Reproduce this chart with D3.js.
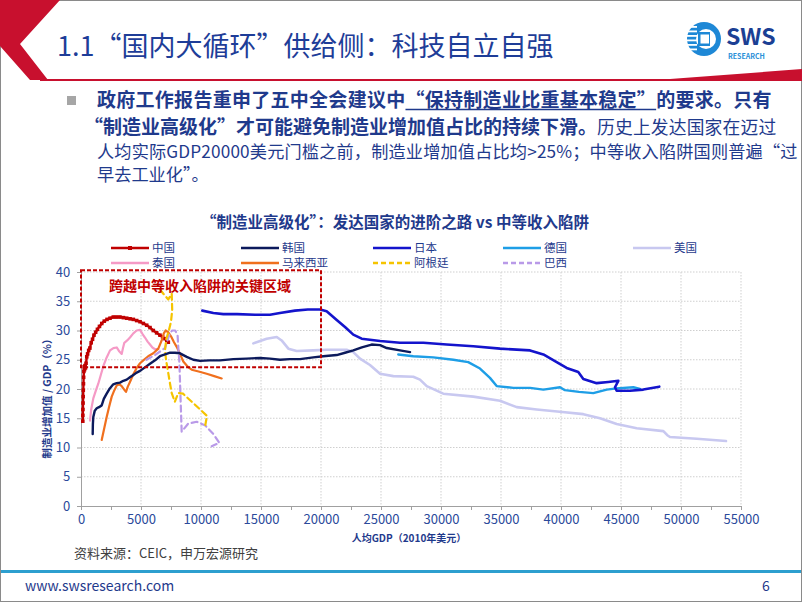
<!DOCTYPE html>
<html><head><meta charset="utf-8">
<script src="https://cdn.jsdelivr.net/npm/d3@7"></script>
<style>
body{margin:0;background:#fff;}
svg{display:block;}
text{font-family:"Noto Sans CJK SC","Noto Sans",sans-serif;}
</style></head><body>
<svg id="c" width="802" height="602"></svg>
<script>
// ---------- DATA ----------
const xTicks=[0,5000,10000,15000,20000,25000,30000,35000,40000,45000,50000,55000];
const yTicks=[0,5,10,15,20,25,30,35,40];
const seriesNames=["中国","韩国","日本","德国","美国","泰国","马来西亚","阿根廷","巴西"];
const china=[[150,14.5],[155,15.5],[160,16.5],[170,17.6],[180,18.7],[190,19.8],[205,20.9],[220,22.0],[240,23.0],[265,23.8],[295,23.3],[330,24.0],[370,23.6],[420,24.4],[480,25.5],[550,26.0],[640,26.6],[740,27.0],[850,27.9],[960,28.5],[1080,29.2],[1220,29.7],[1370,30.2],[1540,30.7],[1730,31.2],[1940,31.6],[2170,31.9],[2420,32.1],[2690,32.3],[2970,32.3],[3250,32.3],[3530,32.2],[3810,32.1],[4090,32.0],[4360,31.9],[4640,31.7],[4920,31.5],[5200,31.2],[5475,30.9],[5750,30.5],[6025,30.0],[6300,29.6],[6580,29.2],[6800,28.9],[7000,28.6],[7150,28.3],[7275,28.0]];
const korea=[[975,12.3],[990,14.0],[1025,15.2],[1150,16.3],[1310,16.7],[1500,16.9],[1725,17.2],[1900,18.3],[2140,19.2],[2400,20.1],[2690,20.8],[2970,21.0],[3250,21.1],[3530,21.4],[3810,21.6],[4080,22.0],[4360,22.4],[4640,22.8],[4920,23.1],[5330,23.7],[5750,24.3],[6170,24.9],[6580,25.6],[7000,25.9],[7420,26.2],[7830,26.2],[8250,26.1],[8810,25.5],[9360,25.0],[9920,24.8],[10700,24.9],[11580,24.9],[12700,25.1],[13810,25.2],[14920,25.3],[15750,25.2],[16580,25.0],[17400,25.1],[18250,25.1],[19360,25.4],[20190,25.6],[21310,25.8],[22000,26.2],[22690,26.6],[23400,27.1],[24220,27.6],[24920,27.5],[25480,27.0],[26580,26.6],[27420,26.3]];
const japan=[[10110,33.4],[11030,33.0],[11860,32.8],[13000,32.8],[14500,32.7],[15750,32.7],[16580,33.0],[17830,33.4],[18900,33.6],[19920,33.6],[20470,33.3],[21310,31.8],[22000,30.6],[22690,29.3],[23390,28.6],[24920,28.2],[26580,27.9],[28530,27.9],[30470,27.6],[32690,27.3],[34920,26.9],[37420,26.6],[38530,25.9],[39640,24.6],[40470,23.6],[41440,22.9],[41860,21.7],[42970,21.0],[43940,21.2],[44780,21.4],[44500,20.3],[44640,19.7],[45750,19.7],[46860,19.9],[48190,20.4]];
const germany=[[26440,25.9],[27690,25.6],[29360,25.4],[31030,25.0],[32270,24.6],[33250,23.5],[34080,21.9],[34640,20.5],[36030,20.2],[37420,20.2],[38530,19.9],[39920,20.3],[40330,19.8],[41500,19.5],[42690,19.3],[43810,19.9],[44640,20.1],[46030,20.3],[46580,20.0]];
const usa=[[14360,27.8],[15470,28.6],[16310,28.9],[16720,28.3],[17280,26.9],[17970,26.5],[19360,26.6],[20470,26.7],[22140,26.7],[22690,26.3],[23250,25.2],[24080,24.1],[24920,22.6],[26030,22.2],[27690,22.1],[28250,21.6],[28810,20.5],[30190,19.2],[32690,18.7],[34920,18.0],[36310,16.9],[37970,16.5],[39900,16.1],[41860,15.7],[43250,15.0],[44640,14.0],[46310,13.3],[48530,12.8],[48860,12.1],[49080,11.8],[51310,11.5],[53750,11.1]];
const thailand=[[750,14.6],[850,16.5],[1025,18.4],[1250,19.8],[1440,20.9],[1650,22.4],[1860,23.9],[2140,25.4],[2420,26.6],[2700,27.0],[2975,27.1],[3200,26.4],[3390,26.0],[3500,27.0],[3610,27.9],[3850,28.3],[4080,28.8],[4360,29.5],[4640,30.0],[4920,30.1],[5130,29.4],[5330,28.8],[5550,28.1],[5750,27.6],[5950,27.1],[6170,26.8],[6440,26.8]];
const malaysia=[[1725,11.3],[1950,13.4],[2140,15.2],[2350,17.0],[2560,18.7],[2780,19.8],[2975,20.6],[3200,20.8],[3390,20.5],[3600,19.9],[3750,19.5],[3900,20.4],[4080,21.2],[4360,22.5],[4640,23.6],[4920,24.4],[5190,24.9],[5600,25.6],[6025,26.1],[6440,26.9],[6725,28.3],[6900,29.5],[7050,30.0],[7275,29.7],[7500,29.0],[7750,28.0],[7975,27.2],[8250,26.0],[8525,24.7],[8900,23.8],[9225,23.3],[9800,23.0],[10475,22.6],[11100,22.2],[11725,21.8]];
const argentina=[[6580,37.0],[6900,36.2],[7275,35.3],[7560,36.3],[7600,33.5],[7500,31.5],[7300,29.8],[7100,28.5],[7000,26.6],[7100,24.8],[7250,23.0],[7420,20.9],[7560,19.3],[7820,17.8],[8100,19.3],[8500,19.2],[9400,17.5],[10500,15.4],[10330,13.5]];
const brazil=[[5450,25.0],[6170,25.8],[7000,27.0],[7400,29.5],[7600,30.0],[7850,30.0],[8050,29.2],[8110,27.0],[8200,24.5],[8300,18.1],[8390,12.7],[8940,14.1],[9640,14.4],[10330,13.8],[11030,12.3],[11530,10.8],[10890,10.2]];
const zoneBox={x0:0,x1:20000,y0:23.7,y1:40.3};
const zoneLabel="跨越中等收入陷阱的关键区域";

// ---------- STYLE ----------
const seriesData=[china,korea,japan,germany,usa,thailand,malaysia,argentina,brazil];
const colors=["#C00000","#0C1A5C","#1414CC","#1E9EE6","#C8C8F0","#F59AC6","#F0701E","#F5C400","#B99AE8"];
const dashed=[false,false,false,false,false,false,false,true,true];
const widths=[2.4,2.4,2.6,2.4,2.6,2.2,2.2,2.2,2.2];
const blue="#1F3A8C";

const svg=d3.select("#c");
svg.append("rect").attr("x",0.5).attr("y",0.5).attr("width",801).attr("height",601).attr("fill","#fff").attr("stroke","#8a8a8a");

// header decorations
svg.append("polygon").attr("points","0,0 60,0 20,44 48,80 30,80 0,46").attr("fill","#C8102E");
svg.append("polygon").attr("points","40,79 670,79 802,69 802,81 40,81").attr("fill","#C8102E");
svg.append("text").attr("x",57).attr("y",56).attr("font-size",27).attr("fill","#1E3D98").text("1.1“国内大循环”供给侧：科技自立自强");

// logo
const lg=svg.append("g");
lg.append("circle").attr("cx",704).attr("cy",39).attr("r",17).attr("fill","#1E88D6");
lg.append("circle").attr("cx",706).attr("cy",39).attr("r",10).attr("fill","#fff");
lg.append("rect").attr("x",698).attr("y",32).attr("width",12).attr("height",14).attr("fill","#1E88D6");
lg.append("rect").attr("x",700.5).attr("y",34.5).attr("width",8.5).attr("height",9).attr("fill","#fff");
[26,30.5,35,39.5,44,48.5].forEach(yy=>lg.append("rect").attr("x",686).attr("y",yy).attr("width",11).attr("height",1.8).attr("fill","#fff"));
lg.append("text").attr("x",726).attr("y",45).attr("font-family","Liberation Sans, Arial, sans-serif").attr("font-weight",700).attr("font-size",23).attr("fill","#1B3F94").text("SWS");
lg.append("text").attr("x",728).attr("y",59).attr("font-family","Liberation Sans, Arial, sans-serif").attr("font-weight",700).attr("font-size",7).attr("fill","#2A8FD8").text("RESEARCH");

// paragraph
svg.append("rect").attr("x",67).attr("y",96).attr("width",9).attr("height",9).attr("fill","#A6A6A6");
function drawLine(y,x0,segs){
  let x=x0;
  segs.forEach(s=>{
    const t=svg.append("text").attr("x",x).attr("y",y).attr("font-size",s.size).attr("font-weight",s.bold?700:400).attr("letter-spacing",s.ls||0).attr("fill",blue).text(s.text);
    const w=t.node().getComputedTextLength();
    if(s.ul) svg.append("line").attr("x1",x).attr("x2",x+w).attr("y1",y+3).attr("y2",y+3).attr("stroke",blue).attr("stroke-width",1.3);
    x+=w;
  });
}
drawLine(106.5,97,[{text:"政府工作报告重申了五中全会建议中",size:19,bold:true,ls:0.28},{text:"“保持制造业比重基本稳定”",size:19,bold:true,ul:true,ls:0.28},{text:"的要求。只有",size:19,bold:true,ls:0.28}]);
drawLine(133.5,84,[{text:"“制造业高级化”才可能避免制造业增加值占比的持续下滑。",size:19,bold:true},{text:"历史上发达国家在迈过",size:17.8,ls:0.15}]);
drawLine(157.5,97,[{text:"人均实际GDP20000美元门槛之前，制造业增加值占比均>25%；中等收入陷阱国则普遍“过",size:17.2,ls:0.15}]);
drawLine(180.5,97,[{text:"早去工业化”。",size:17.2}]);

// ---------- CHART ----------
const x=d3.scaleLinear().domain([0,55000]).range([81,741]);
const y=d3.scaleLinear().domain([0,40]).range([506,272]);

svg.append("text").attr("x",395).attr("y",228).attr("text-anchor","middle").attr("font-size",15.5).attr("font-weight",700).attr("fill",blue).text("“制造业高级化”：发达国家的进阶之路 vs 中等收入陷阱");

const grid=svg.append("g");
xTicks.filter(d=>d>0).forEach(d=>grid.append("line").attr("x1",x(d)).attr("x2",x(d)).attr("y1",y(40)).attr("y2",y(0)).attr("stroke","#CFCFCF").attr("stroke-dasharray","1.5,1.5"));
yTicks.filter(d=>d>0).forEach(d=>grid.append("line").attr("x1",x(0)).attr("x2",x(55000)).attr("y1",y(d)).attr("y2",y(d)).attr("stroke","#CFCFCF").attr("stroke-dasharray","1.5,1.5"));

const xAxis=d3.axisBottom(x).tickValues(d3.range(0,55001,2500)).tickSize(4).tickFormat(d=>xTicks.includes(d)?d:"");
const gx=svg.append("g").attr("transform",`translate(0,${y(0)})`).call(xAxis);
gx.select(".domain").attr("stroke","#A0A0A0");
gx.selectAll(".tick line").attr("stroke","#A0A0A0");
gx.selectAll("text").attr("font-family","Liberation Sans Narrow, Arial Narrow, Liberation Sans, sans-serif").attr("font-size",13).attr("fill","#2B4A9B").attr("dy","0.85em");
const yAxis=d3.axisLeft(y).tickValues(yTicks).tickSize(4);
const gy=svg.append("g").attr("transform",`translate(${x(0)},0)`).call(yAxis);
gy.select(".domain").attr("stroke","#A0A0A0");
gy.selectAll(".tick line").attr("stroke","#A0A0A0");
gy.selectAll("text").attr("font-family","Liberation Sans Narrow, Arial Narrow, Liberation Sans, sans-serif").attr("font-size",13).attr("fill","#2B4A9B").attr("dx","-0.3em");

svg.append("text").attr("transform",`translate(51,${396}) rotate(-90)`).attr("text-anchor","middle").attr("font-size",10.5).attr("font-weight",700).attr("fill",blue).text("制造业增加值 / GDP（%）");
svg.append("text").attr("x",409).attr("y",542).attr("text-anchor","middle").attr("font-size",10).attr("font-weight",700).attr("fill",blue).text("人均GDP（2010年美元）");

const lineL=d3.line().x(d=>x(d[0])).y(d=>y(d[1]));
const order=[4,0,5,6,8,7,1,3,2];
order.forEach(i=>{
  svg.append("path").attr("d",lineL(seriesData[i])).attr("fill","none").attr("stroke",colors[i]).attr("stroke-width",widths[i])
    .attr("stroke-linejoin","round").attr("stroke-linecap","round").attr("stroke-dasharray",dashed[i]?"6,4":null);
  if(i===0){
    svg.selectAll(null).data(seriesData[0]).enter().append("rect").attr("x",d=>x(d[0])-1.8).attr("y",d=>y(d[1])-1.8).attr("width",3.6).attr("height",3.6).attr("fill",colors[0]);
  }
});

svg.append("rect").attr("x",x(zoneBox.x0)).attr("y",y(zoneBox.y1)).attr("width",x(zoneBox.x1)-x(zoneBox.x0)).attr("height",y(zoneBox.y0)-y(zoneBox.y1))
  .attr("fill","none").attr("stroke","#C00000").attr("stroke-width",2).attr("stroke-dasharray","4,2");
svg.append("text").attr("x",200).attr("y",291).attr("text-anchor","middle").attr("font-size",14).attr("font-weight",700).attr("fill","#C00000").text(zoneLabel);

const legX=[111,241,373,503,633], legY=[248,263];
seriesNames.forEach((n,i)=>{
  const lx=legX[i%5], ly=legY[Math.floor(i/5)];
  svg.append("line").attr("x1",lx).attr("x2",lx+38).attr("y1",ly).attr("y2",ly).attr("stroke",colors[i]).attr("stroke-width",2.4).attr("stroke-dasharray",dashed[i]?"5,3":null);
  if(i===0) svg.append("rect").attr("x",lx+17).attr("y",ly-2).attr("width",4).attr("height",4).attr("fill",colors[0]);
  svg.append("text").attr("x",lx+41).attr("y",ly+4.2).attr("font-size",11.5).attr("fill",blue).text(n);
});

svg.append("text").attr("x",74).attr("y",558).attr("font-size",13).attr("fill","#404040").text("资料来源：CEIC，申万宏源研究");
svg.append("rect").attr("x",1).attr("y",570).attr("width",800).attr("height",3).attr("fill","#2D9FCF");
svg.append("text").attr("x",25).attr("y",591).attr("font-family","Liberation Sans, Arial, sans-serif").attr("font-size",14).attr("fill",blue).text("www.swsresearch.com");
svg.append("text").attr("x",762).attr("y",591).attr("font-family","Liberation Sans, Arial, sans-serif").attr("font-size",14).attr("fill",blue).text("6");
</script></body></html>
